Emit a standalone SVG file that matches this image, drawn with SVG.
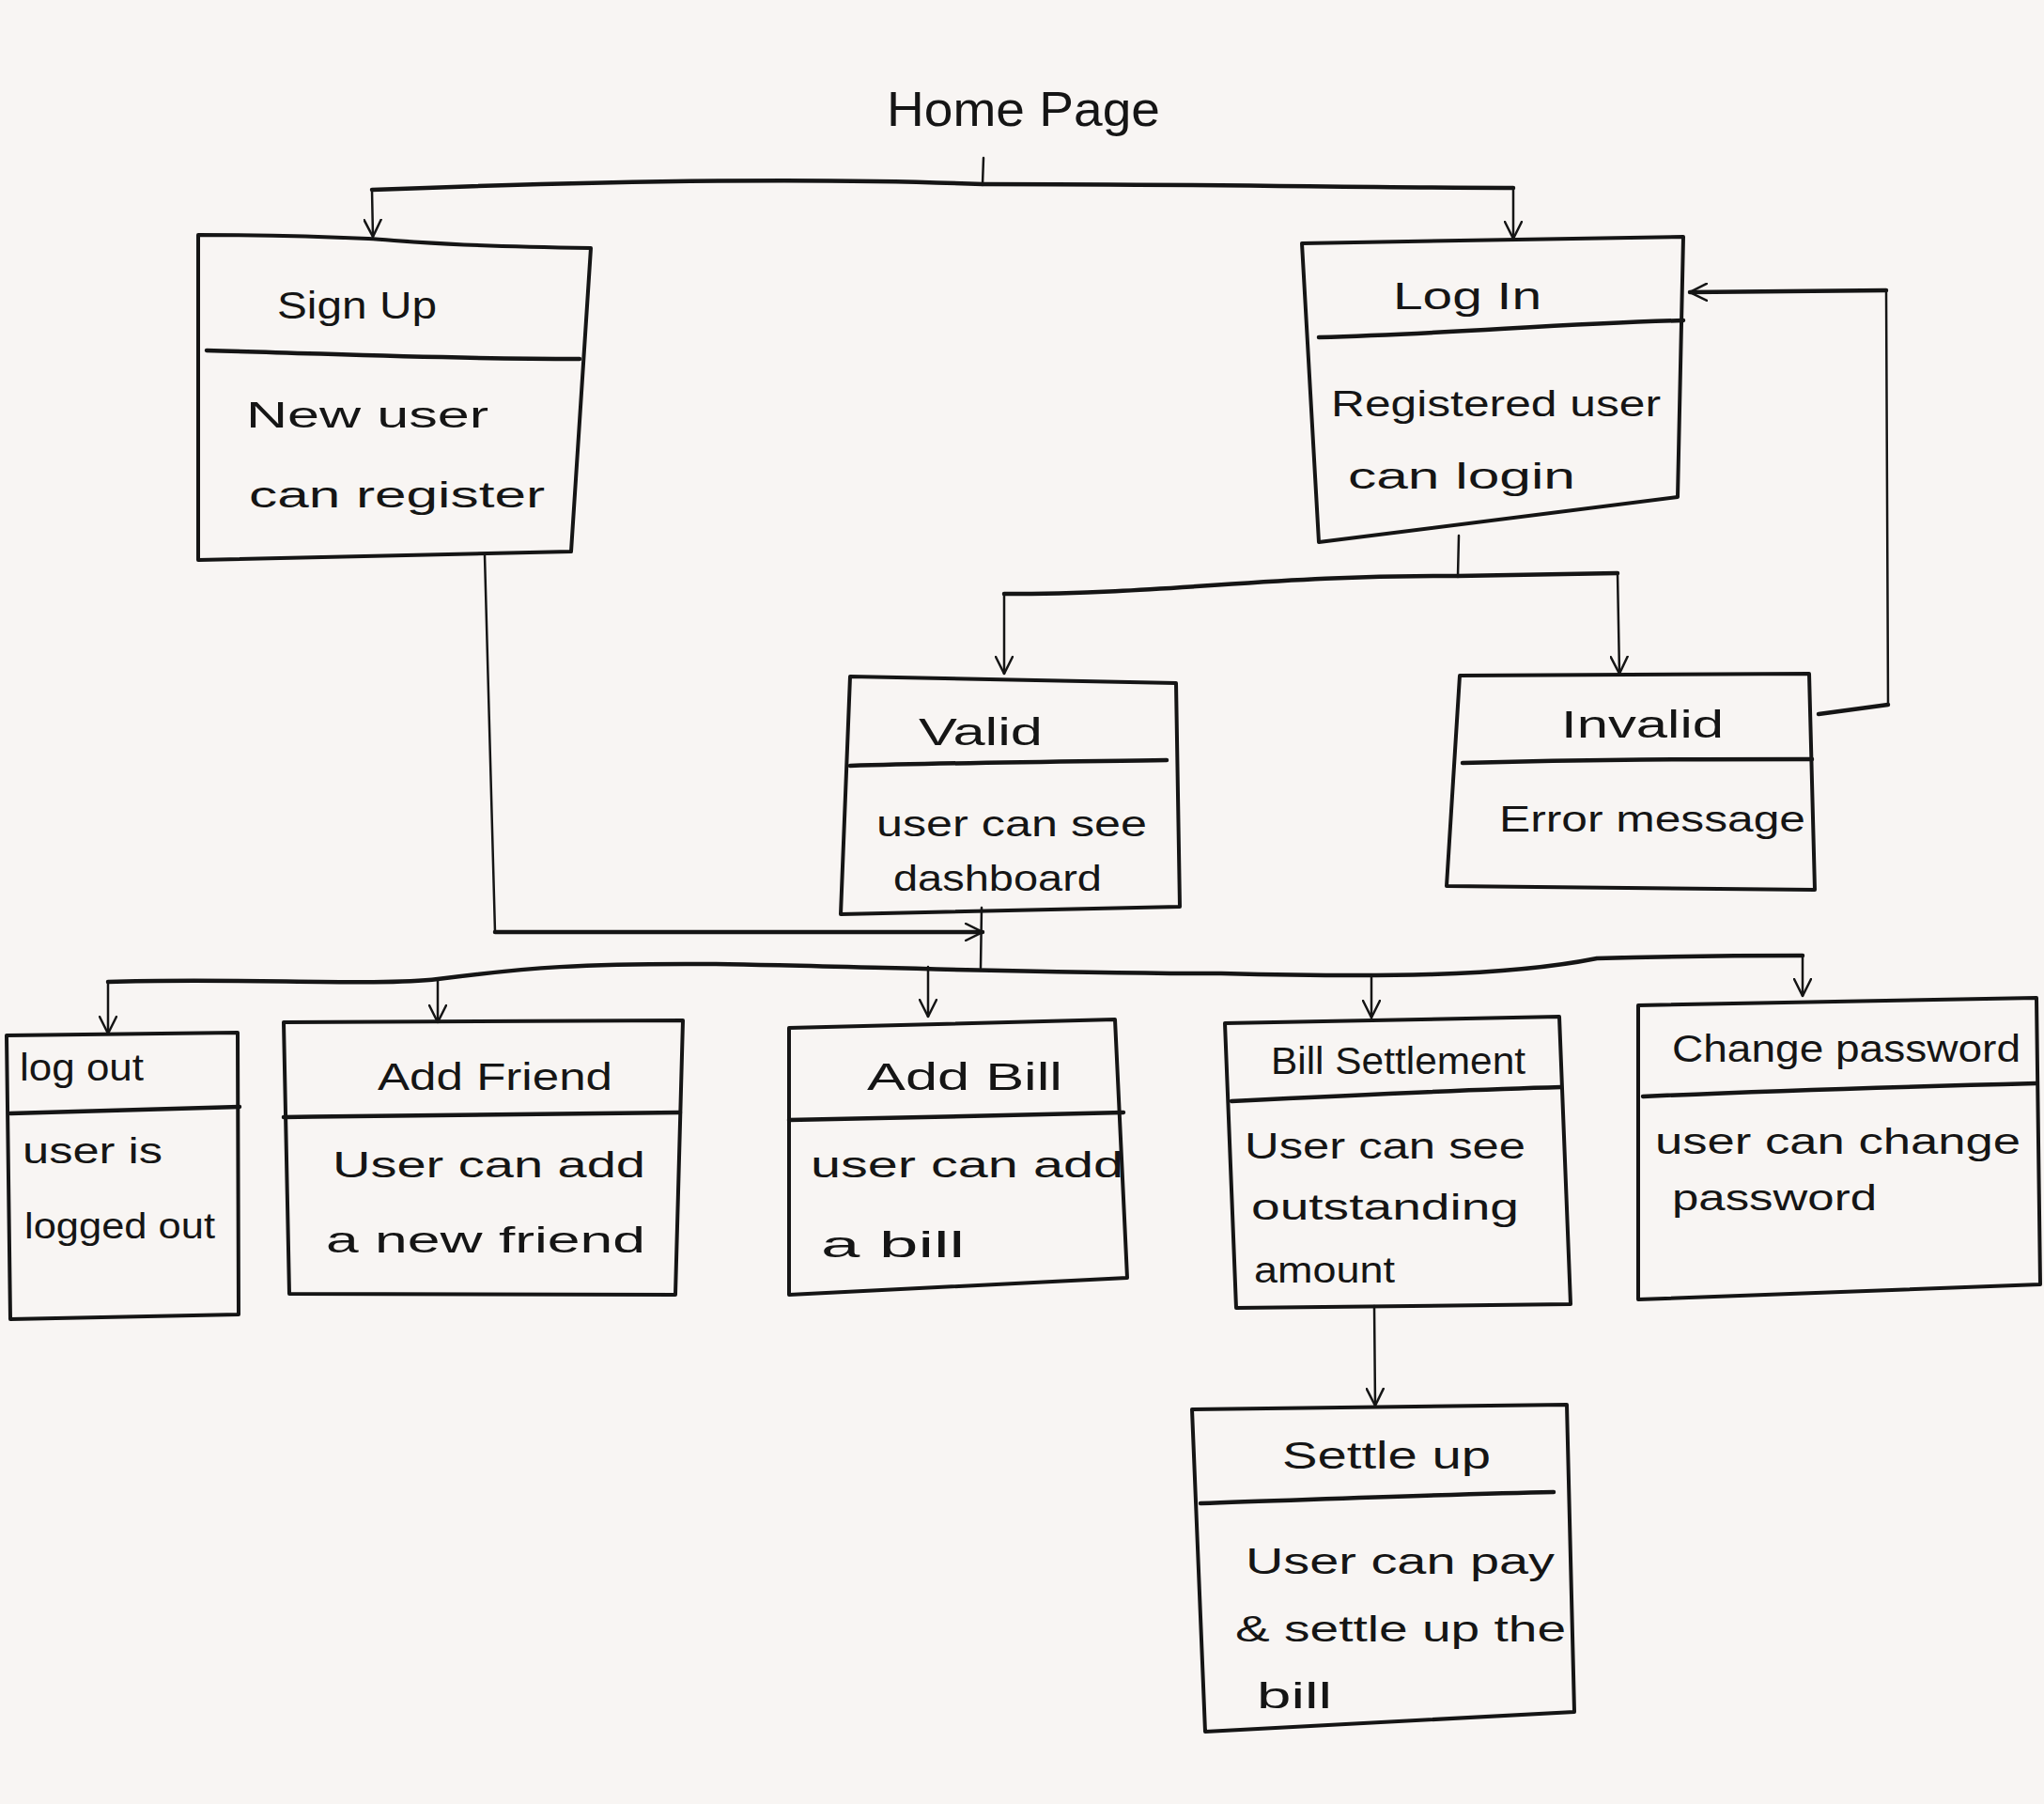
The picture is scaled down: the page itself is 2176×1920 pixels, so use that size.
<svg xmlns="http://www.w3.org/2000/svg" width="2176" height="1920" viewBox="0 0 2176 1920">
<style>
.box{fill:none;stroke:#151515;stroke-width:4;stroke-linejoin:round;stroke-linecap:round}
.div{fill:none;stroke:#151515;stroke-width:4.5;stroke-linecap:round}
.conn{fill:none;stroke:#151515;stroke-width:2.5;stroke-linecap:round;stroke-linejoin:round}
.bus{fill:none;stroke:#151515;stroke-width:4.5;stroke-linecap:round;stroke-linejoin:round}
text{font-family:"Liberation Sans",Arial,sans-serif;fill:#151515}
.t{font-size:40px}
.b{font-size:38px}
</style>
<defs>
<marker id="arr" viewBox="0 0 20 20" refX="19" refY="10" markerWidth="20" markerHeight="20" markerUnits="userSpaceOnUse" orient="auto">
<path d="M1,1 L19,10 L1,19" fill="none" stroke="#151515" stroke-width="2.5" stroke-linecap="round"/>
</marker>
</defs>
<rect width="2176" height="1920" fill="#f8f5f3"/>

<g id="home">
<text x="944" y="134" font-size="52" textLength="291" lengthAdjust="spacingAndGlyphs">Home  Page</text>
</g>

<g id="connectors">
<path class="conn" d="M1047,168 L1046,196"/>
<path class="bus" d="M1046,196 C850,188 600,194 396,202"/>
<path class="conn" d="M396,202 L397,252" marker-end="url(#arr)"/>
<path class="bus" d="M1046,196 C1300,196 1450,200 1611,200"/>
<path class="conn" d="M1611,200 L1611,254" marker-end="url(#arr)"/>
<path class="conn" d="M1553,570 L1552,613"/>
<path class="bus" d="M1552,613 C1350,612 1250,632 1069,632"/>
<path class="conn" d="M1069,632 L1069,717" marker-end="url(#arr)"/>
<path class="bus" d="M1552,613 L1722,610"/>
<path class="conn" d="M1722,610 L1724,717" marker-end="url(#arr)"/>
<path class="bus" d="M1936,760 L2010,750"/>
<path class="conn" d="M2010,750 L2008,309"/>
<path class="bus" d="M2008,309 L1799,311" marker-end="url(#arr)"/>
<path class="conn" d="M516,591 L527,992"/>
<path class="bus" d="M527,992 L1046,992" marker-end="url(#arr)"/>
<path class="conn" d="M1045,966 L1044,1030"/>
<path class="bus" d="M115,1045 C250,1040 400,1050 466,1042 C560,1030 620,1025 760,1026 C900,1028 1100,1036 1300,1036 C1460,1040 1600,1040 1700,1020 C1800,1017 1860,1017 1919,1017"/>
<path class="conn" d="M115,1045 L115,1100" marker-end="url(#arr)"/>
<path class="conn" d="M466,1042 L466,1088" marker-end="url(#arr)"/>
<path class="conn" d="M988,1029 L988,1082" marker-end="url(#arr)"/>
<path class="conn" d="M1460,1038 L1460,1083" marker-end="url(#arr)"/>
<path class="conn" d="M1919,1017 L1919,1060" marker-end="url(#arr)"/>
<path class="conn" d="M1463,1390 L1464,1496" marker-end="url(#arr)"/>
</g>

<g id="signup">
<path class="box" d="M211,250 C280,250 350,252 392,254 C440,257 480,262 629,264 L608,587 L211,596 Z"/>
<path class="div" d="M220,373 C350,376 450,382 617,382"/>
<text class="t" x="295" y="339" textLength="170" lengthAdjust="spacingAndGlyphs">Sign Up</text>
<text class="b" x="262" y="455" textLength="258" lengthAdjust="spacingAndGlyphs">New  user</text>
<text class="b" x="265" y="540" textLength="315" lengthAdjust="spacingAndGlyphs">can  register</text>
</g>

<g id="login">
<path class="box" d="M1386,259 L1792,252 L1786,529 L1404,577 Z"/>
<path class="div" d="M1404,359 C1550,355 1650,345 1792,341"/>
<text class="t" x="1483" y="329" textLength="158" lengthAdjust="spacingAndGlyphs">Log In</text>
<text class="b" x="1417" y="443" textLength="351" lengthAdjust="spacingAndGlyphs">Registered user</text>
<text class="b" x="1435" y="520" textLength="242" lengthAdjust="spacingAndGlyphs">can login</text>
</g>

<g id="valid">
<path class="box" d="M905,720 L1252,727 L1256,965 L895,973 Z"/>
<path class="div" d="M905,815 C1000,812 1100,811 1242,809"/>
<text class="t" x="978" y="793" textLength="132" lengthAdjust="spacingAndGlyphs">Valid</text>
<text class="b" x="933" y="890" textLength="288" lengthAdjust="spacingAndGlyphs">user can see</text>
<text class="b" x="951" y="948" textLength="222" lengthAdjust="spacingAndGlyphs">dashboard</text>
</g>

<g id="invalid">
<path class="box" d="M1554,719 L1926,717 L1932,947 L1540,943 Z"/>
<path class="div" d="M1557,812 C1700,808 1800,808 1929,808"/>
<text class="t" x="1662" y="785" textLength="173" lengthAdjust="spacingAndGlyphs">Invalid</text>
<text class="b" x="1596" y="885" textLength="326" lengthAdjust="spacingAndGlyphs">Error  message</text>
</g>

<g id="logout">
<path class="box" d="M7,1102 L253,1099 L254,1399 L11,1404 Z"/>
<path class="div" d="M11,1185 C100,1183 180,1180 255,1178"/>
<text class="t" x="21" y="1150" font-size="38" textLength="132" lengthAdjust="spacingAndGlyphs">log out</text>
<text class="b" x="24" y="1238" font-size="34" textLength="149" lengthAdjust="spacingAndGlyphs">user is</text>
<text class="b" x="26" y="1318" font-size="34" textLength="203" lengthAdjust="spacingAndGlyphs">logged out</text>
</g>

<g id="addfriend">
<path class="box" d="M302,1088 L727,1086 L719,1378 L308,1377 Z"/>
<path class="div" d="M302,1189 C450,1187 600,1186 724,1184"/>
<text class="t" x="402" y="1160" textLength="250" lengthAdjust="spacingAndGlyphs">Add Friend</text>
<text class="b" x="354" y="1253" textLength="333" lengthAdjust="spacingAndGlyphs">User can add</text>
<text class="b" x="347" y="1333" textLength="340" lengthAdjust="spacingAndGlyphs">a new friend</text>
</g>

<g id="addbill">
<path class="box" d="M840,1094 L1187,1085 L1200,1360 L840,1378 Z"/>
<path class="div" d="M840,1192 C950,1190 1100,1186 1196,1184"/>
<text class="t" x="923" y="1160" font-size="44" textLength="208" lengthAdjust="spacingAndGlyphs">Add  Bill</text>
<text class="b" x="863" y="1253" textLength="333" lengthAdjust="spacingAndGlyphs">user can  add</text>
<text class="b" x="874" y="1338" textLength="153" lengthAdjust="spacingAndGlyphs">a bill</text>
</g>

<g id="billsettlement">
<path class="box" d="M1304,1089 L1660,1082 L1672,1388 L1316,1392 Z"/>
<path class="div" d="M1311,1172 C1450,1165 1550,1160 1662,1157"/>
<text class="t" x="1353" y="1143" font-size="34" textLength="271" lengthAdjust="spacingAndGlyphs">Bill Settlement</text>
<text class="b" x="1325" y="1233" textLength="299" lengthAdjust="spacingAndGlyphs">User can see</text>
<text class="b" x="1332" y="1298" textLength="285" lengthAdjust="spacingAndGlyphs">outstanding</text>
<text class="b" x="1335" y="1365" textLength="150" lengthAdjust="spacingAndGlyphs">amount</text>
</g>

<g id="changepassword">
<path class="box" d="M1744,1070 L2168,1062 L2172,1367 L1744,1383 Z"/>
<path class="div" d="M1749,1167 C1900,1160 2050,1156 2168,1153"/>
<text class="t" x="1780" y="1130" font-size="36" textLength="371" lengthAdjust="spacingAndGlyphs">Change password</text>
<text class="b" x="1762" y="1228" textLength="389" lengthAdjust="spacingAndGlyphs">user can change</text>
<text class="b" x="1780" y="1288" textLength="218" lengthAdjust="spacingAndGlyphs">password</text>
</g>

<g id="settleup">
<path class="box" d="M1269,1500 L1668,1495 L1676,1822 L1283,1843 Z"/>
<path class="div" d="M1278,1600 C1400,1596 1550,1590 1654,1588"/>
<text class="t" x="1365" y="1563" textLength="222" lengthAdjust="spacingAndGlyphs">Settle up</text>
<text class="b" x="1326" y="1675" textLength="329" lengthAdjust="spacingAndGlyphs">User can pay</text>
<text class="b" x="1315" y="1747" textLength="352" lengthAdjust="spacingAndGlyphs">&amp; settle  up the</text>
<text class="b" x="1338" y="1818" textLength="80" lengthAdjust="spacingAndGlyphs">bill</text>
</g>
</svg>
